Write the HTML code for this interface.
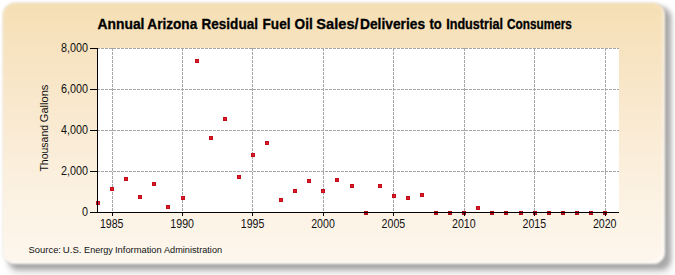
<!DOCTYPE html>
<html><head><meta charset="utf-8"><style>
html,body{margin:0;padding:0;background:#fff;width:675px;height:275px;overflow:hidden}
#shadow{position:absolute;left:8px;top:7px;width:663px;height:263px;border-radius:11px;background:rgba(0,0,0,0.30);filter:blur(2.5px)}
#shadow2{position:absolute;left:8px;top:7px;width:665px;height:272px;border-radius:11px;background:rgba(0,0,0,0.05);filter:blur(3px)}
#panel{position:absolute;left:3px;top:3px;width:662px;height:261px;box-shadow:inset -2px -2px 2px rgba(255,255,255,0.7),0 0 0 1px rgba(0,0,0,0.07);border-radius:12px;
background:linear-gradient(to bottom,#f5dfb4 0%,#f8e5c5 25%,#faebd4 50%,#fcf2e3 75%,#fef7ee 100%);filter:blur(0.8px)}
svg{position:absolute;left:0;top:0}
text{font-family:"Liberation Sans", sans-serif}
</style></head><body>
<div id="shadow2"></div><div id="shadow"></div><div id="panel"></div>
<svg width="675" height="275" viewBox="0 0 675 275">
<rect x="98" y="48" width="521" height="164" fill="#fff"/>
<line x1="98" y1="48.5" x2="619" y2="48.5" stroke="#a6a6a6" stroke-width="1" stroke-dasharray="3,1" stroke-dashoffset="1"/><line x1="98" y1="89.5" x2="619" y2="89.5" stroke="#a6a6a6" stroke-width="1" stroke-dasharray="3,1" stroke-dashoffset="1"/><line x1="98" y1="130.5" x2="619" y2="130.5" stroke="#a6a6a6" stroke-width="1" stroke-dasharray="3,1" stroke-dashoffset="1"/><line x1="98" y1="171.5" x2="619" y2="171.5" stroke="#a6a6a6" stroke-width="1" stroke-dasharray="3,1" stroke-dashoffset="1"/><line x1="112.5" y1="48" x2="112.5" y2="212" stroke="#a6a6a6" stroke-width="1" stroke-dasharray="3,1"/><line x1="182.5" y1="48" x2="182.5" y2="212" stroke="#a6a6a6" stroke-width="1" stroke-dasharray="3,1"/><line x1="252.5" y1="48" x2="252.5" y2="212" stroke="#a6a6a6" stroke-width="1" stroke-dasharray="3,1"/><line x1="323.5" y1="48" x2="323.5" y2="212" stroke="#a6a6a6" stroke-width="1" stroke-dasharray="3,1"/><line x1="393.5" y1="48" x2="393.5" y2="212" stroke="#a6a6a6" stroke-width="1" stroke-dasharray="3,1"/><line x1="464.5" y1="48" x2="464.5" y2="212" stroke="#a6a6a6" stroke-width="1" stroke-dasharray="3,1"/><line x1="534.5" y1="48" x2="534.5" y2="212" stroke="#a6a6a6" stroke-width="1" stroke-dasharray="3,1"/><line x1="605.5" y1="48" x2="605.5" y2="212" stroke="#a6a6a6" stroke-width="1" stroke-dasharray="3,1"/>
<rect x="96" y="201" width="4" height="4" fill="#c20e1a"/><rect x="97" y="202" width="2" height="2" fill="#dc1a28"/><rect x="110" y="187" width="4" height="4" fill="#c20e1a"/><rect x="111" y="188" width="2" height="2" fill="#dc1a28"/><rect x="124" y="177" width="4" height="4" fill="#c20e1a"/><rect x="125" y="178" width="2" height="2" fill="#dc1a28"/><rect x="138" y="195" width="4" height="4" fill="#c20e1a"/><rect x="139" y="196" width="2" height="2" fill="#dc1a28"/><rect x="152" y="182" width="4" height="4" fill="#c20e1a"/><rect x="153" y="183" width="2" height="2" fill="#dc1a28"/><rect x="166" y="205" width="4" height="4" fill="#c20e1a"/><rect x="167" y="206" width="2" height="2" fill="#dc1a28"/><rect x="181" y="196" width="4" height="4" fill="#c20e1a"/><rect x="182" y="197" width="2" height="2" fill="#dc1a28"/><rect x="195" y="59" width="4" height="4" fill="#c20e1a"/><rect x="196" y="60" width="2" height="2" fill="#dc1a28"/><rect x="209" y="136" width="4" height="4" fill="#c20e1a"/><rect x="210" y="137" width="2" height="2" fill="#dc1a28"/><rect x="223" y="117" width="4" height="4" fill="#c20e1a"/><rect x="224" y="118" width="2" height="2" fill="#dc1a28"/><rect x="237" y="175" width="4" height="4" fill="#c20e1a"/><rect x="238" y="176" width="2" height="2" fill="#dc1a28"/><rect x="251" y="153" width="4" height="4" fill="#c20e1a"/><rect x="252" y="154" width="2" height="2" fill="#dc1a28"/><rect x="265" y="141" width="4" height="4" fill="#c20e1a"/><rect x="266" y="142" width="2" height="2" fill="#dc1a28"/><rect x="279" y="198" width="4" height="4" fill="#c20e1a"/><rect x="280" y="199" width="2" height="2" fill="#dc1a28"/><rect x="293" y="189" width="4" height="4" fill="#c20e1a"/><rect x="294" y="190" width="2" height="2" fill="#dc1a28"/><rect x="307" y="179" width="4" height="4" fill="#c20e1a"/><rect x="308" y="180" width="2" height="2" fill="#dc1a28"/><rect x="321" y="189" width="4" height="4" fill="#c20e1a"/><rect x="322" y="190" width="2" height="2" fill="#dc1a28"/><rect x="335" y="178" width="4" height="4" fill="#c20e1a"/><rect x="336" y="179" width="2" height="2" fill="#dc1a28"/><rect x="350" y="184" width="4" height="4" fill="#c20e1a"/><rect x="351" y="185" width="2" height="2" fill="#dc1a28"/><rect x="364" y="211" width="4" height="4" fill="#b00c18"/><rect x="378" y="184" width="4" height="4" fill="#c20e1a"/><rect x="379" y="185" width="2" height="2" fill="#dc1a28"/><rect x="392" y="194" width="4" height="4" fill="#c20e1a"/><rect x="393" y="195" width="2" height="2" fill="#dc1a28"/><rect x="406" y="196" width="4" height="4" fill="#c20e1a"/><rect x="407" y="197" width="2" height="2" fill="#dc1a28"/><rect x="420" y="193" width="4" height="4" fill="#c20e1a"/><rect x="421" y="194" width="2" height="2" fill="#dc1a28"/><rect x="434" y="211" width="4" height="4" fill="#b00c18"/><rect x="448" y="211" width="4" height="4" fill="#b00c18"/><rect x="462" y="211" width="4" height="4" fill="#b00c18"/><rect x="476" y="206" width="4" height="4" fill="#c20e1a"/><rect x="477" y="207" width="2" height="2" fill="#dc1a28"/><rect x="490" y="211" width="4" height="4" fill="#b00c18"/><rect x="504" y="211" width="4" height="4" fill="#b00c18"/><rect x="519" y="211" width="4" height="4" fill="#b00c18"/><rect x="533" y="211" width="4" height="4" fill="#b00c18"/><rect x="547" y="211" width="4" height="4" fill="#b00c18"/><rect x="561" y="211" width="4" height="4" fill="#b00c18"/><rect x="575" y="211" width="4" height="4" fill="#b00c18"/><rect x="589" y="211" width="4" height="4" fill="#b00c18"/><rect x="603" y="211" width="4" height="4" fill="#b00c18"/>
<line x1="97.5" y1="48" x2="97.5" y2="213" stroke="#000" stroke-width="1"/><line x1="90" y1="212.5" x2="619" y2="212.5" stroke="#000" stroke-width="1"/><line x1="90" y1="48.5" x2="97" y2="48.5" stroke="#000" stroke-width="1"/><line x1="90" y1="89.5" x2="97" y2="89.5" stroke="#000" stroke-width="1"/><line x1="90" y1="130.5" x2="97" y2="130.5" stroke="#000" stroke-width="1"/><line x1="90" y1="171.5" x2="97" y2="171.5" stroke="#000" stroke-width="1"/><line x1="112.5" y1="212" x2="112.5" y2="216" stroke="#000" stroke-width="1"/><line x1="182.5" y1="212" x2="182.5" y2="216" stroke="#000" stroke-width="1"/><line x1="252.5" y1="212" x2="252.5" y2="216" stroke="#000" stroke-width="1"/><line x1="323.5" y1="212" x2="323.5" y2="216" stroke="#000" stroke-width="1"/><line x1="393.5" y1="212" x2="393.5" y2="216" stroke="#000" stroke-width="1"/><line x1="464.5" y1="212" x2="464.5" y2="216" stroke="#000" stroke-width="1"/><line x1="534.5" y1="212" x2="534.5" y2="216" stroke="#000" stroke-width="1"/><line x1="605.5" y1="212" x2="605.5" y2="216" stroke="#000" stroke-width="1"/>
<g font-size="12" fill="#111"><text transform="translate(88,52.0) scale(0.9,1)" text-anchor="end">8,000</text><text transform="translate(88,93.0) scale(0.9,1)" text-anchor="end">6,000</text><text transform="translate(88,134.0) scale(0.9,1)" text-anchor="end">4,000</text><text transform="translate(88,175.0) scale(0.9,1)" text-anchor="end">2,000</text><text transform="translate(88,216.0) scale(0.9,1)" text-anchor="end">0</text><text transform="translate(111.70,228) scale(0.885,1)" text-anchor="middle">1985</text><text transform="translate(182.13,228) scale(0.885,1)" text-anchor="middle">1990</text><text transform="translate(252.56,228) scale(0.885,1)" text-anchor="middle">1995</text><text transform="translate(322.99,228) scale(0.885,1)" text-anchor="middle">2000</text><text transform="translate(393.42,228) scale(0.885,1)" text-anchor="middle">2005</text><text transform="translate(463.85,228) scale(0.885,1)" text-anchor="middle">2010</text><text transform="translate(534.28,228) scale(0.885,1)" text-anchor="middle">2015</text><text transform="translate(604.71,228) scale(0.885,1)" text-anchor="middle">2020</text></g>
<g font-size="14" font-weight="bold" fill="#000" stroke="#000" stroke-width="0.3"><text transform="translate(97.50,28.7) scale(0.9908,1)">Annual</text><text transform="translate(147.31,28.7) scale(0.9732,1)">Arizona</text><text transform="translate(201.51,28.7) scale(0.9682,1)">Residual</text><text transform="translate(262.51,28.7) scale(0.9731,1)">Fuel</text><text transform="translate(294.62,28.7) scale(0.9716,1)">Oil</text><text transform="translate(316.30,28.7) scale(1.0455,1)">Sales/</text><text transform="translate(360.00,28.7) scale(0.9844,1)">Deliveries</text><text transform="translate(429.52,28.7) scale(0.9276,1)">to</text><text transform="translate(446.16,28.7) scale(0.9019,1)">Industrial</text><text transform="translate(506.99,28.7) scale(0.8440,1)">Consumers</text></g>
<g font-size="10.5" fill="#111"><text transform="translate(47.5,171.57) rotate(-90) scale(0.9991,1)">Thousand</text><text transform="translate(47.5,122.23) rotate(-90) scale(1.0572,1)">Gallons</text></g>
<g font-size="9.7" fill="#111"><text transform="translate(28.56,252.8) scale(0.9711,1)">Source:</text><text transform="translate(62.75,252.8) scale(0.9960,1)">U.S.</text><text transform="translate(84.08,252.8) scale(0.9370,1)">Energy</text><text transform="translate(115.00,252.8) scale(0.9653,1)">Information</text><text transform="translate(163.94,252.8) scale(0.9475,1)">Administration</text></g>
</svg>
</body></html>
